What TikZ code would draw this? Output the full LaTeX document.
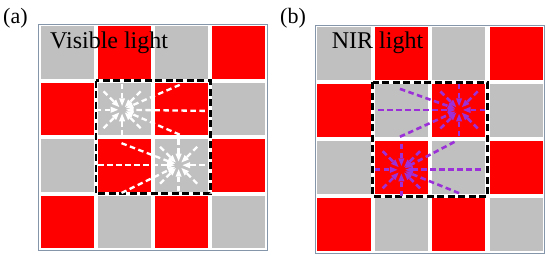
\documentclass[tikz,border=0pt]{standalone}
\usepackage{fontspec}
\setmainfont{Liberation Serif}
\usepackage{tikz}
\usetikzlibrary{arrows.meta,calc}
\definecolor{cellred}   {HTML}{FF0000}
\definecolor{cellgray}  {HTML}{C0C0C0}
\definecolor{nirpurple} {HTML}{9B30D9}
\definecolor{framegray} {HTML}{8595AA}
\tikzset{
  % --- grid
  gridframe/.style = {draw=framegray, line width=0.9pt},
  zonebox/.style   = {draw=black, line width=2.8pt, dash pattern=on 7pt off 3.5pt},
  % --- labels
  tag/.style       = {inner sep=0pt, anchor=base west, font=\fontsize{22}{26}\selectfont},
  lightlbl/.style  = {inner sep=0pt, anchor=base west, font=\fontsize{24}{28}\selectfont},
  % --- rays
  rayline/.style   = {-{Triangle[length=8pt,width=5.5pt]}, line width=2.3pt,
                      dash pattern=on 5.5pt off 3.5pt, shorten >=3.5pt},
  visray/.style    = {rayline, draw=white},
  nirray/.style    = {rayline, draw=nirpurple, line width=2.6pt},
}

\begin{document}
\begin{tikzpicture}[x=1pt,y=-1pt]
  \useasboundingbox (0,0) rectangle (550,259);

  % --- (a) visible light
  \begin{scope}[xshift=41pt,yshift=-26pt,x=57.1pt,y=-56.6pt]
    \foreach \c in {0,...,3}{
      \foreach \r in {0,...,3}{
        \pgfmathtruncatemacro\odd{mod(\c+\r,2)}
        \ifnum\odd=1 \def\cellcol{cellred}\else\def\cellcol{cellgray}\fi
        \fill[\cellcol] (\c,\r) rectangle ++(0.928,0.928);
      }}
    \draw[gridframe] (-0.036,-0.036) rectangle (3.964,3.964);
    \draw[zonebox] (0.964,0.964) rectangle (2.964,2.964);

    \coordinate (vis1) at (1.42,1.48);
    \coordinate (vis2) at (2.41,2.46);
    \coordinate (vis1a) at (2.43,1.04);
    \coordinate (vis1b) at (2.87,1.50);
    \coordinate (vis1c) at (2.43,1.92);
    \coordinate (vis2a) at (1.41,2.07);
    \coordinate (vis2b) at (1.00,2.46);
    \coordinate (vis2c) at (1.41,2.95);
    \foreach \ang in {45,90,...,315}{
      \coordinate (vis1s) at ($(vis1)+(\ang:0.46)$);
      \draw[visray] (vis1s) -- (vis1);
    }
    \foreach \ang in {0,45,90,135,225,270,315}{
      \coordinate (vis2s) at ($(vis2)+(\ang:0.46)$);
      \draw[visray] (vis2s) -- (vis2);
    }
    \foreach \t in {a,b,c}{
      \draw[visray] (vis1\t) -- (vis1);
      \draw[visray] (vis2\t) -- (vis2);
    }
  \end{scope}

  % --- (b) NIR light
  \begin{scope}[xshift=317.3pt,yshift=-27.3pt,x=57.4pt,y=-57pt]
    \foreach \c in {0,...,3}{
      \foreach \r in {0,...,3}{
        \pgfmathtruncatemacro\odd{mod(\c+\r,2)}
        \ifnum\odd=1 \def\cellcol{cellred}\else\def\cellcol{cellgray}\fi
        \fill[\cellcol] (\c,\r) rectangle ++(0.928,0.928);
      }}
    \draw[gridframe] (-0.036,-0.036) rectangle (3.964,3.964);
    \draw[zonebox] (0.964,0.964) rectangle (2.964,2.964);

    \coordinate (nir1) at (2.47,1.45);
    \coordinate (nir2) at (1.465,2.50);
    \coordinate (nir1a) at (1.44,1.08);
    \coordinate (nir1b) at (1.06,1.45);
    \coordinate (nir1c) at (1.44,1.92);
    \coordinate (nir2a) at (2.39,2.01);
    \coordinate (nir2b) at (2.85,2.50);
    \coordinate (nir2c) at (2.47,2.91);
    \foreach \ang in {0,45,90,135,225,270,315}{
      \coordinate (nir1s) at ($(nir1)+(\ang:0.46)$);
      \draw[nirray] (nir1s) -- (nir1);
    }
    \foreach \ang in {45,90,...,315}{
      \coordinate (nir2s) at ($(nir2)+(\ang:0.46)$);
      \draw[nirray] (nir2s) -- (nir2);
    }
    \foreach \t in {a,b,c}{
      \draw[nirray] (nir1\t) -- (nir1);
      \draw[nirray] (nir2\t) -- (nir2);
    }
  \end{scope}

  % --- labels
  \node[tag] (taga) at (3,24) {(a)};
  \node[tag] (tagb) at (280,24) {(b)};
  \node[lightlbl] (vislbl) at (50,48.3) {Visible light};
  \node[lightlbl] (nirlbl) at (331.7,49) {NIR light};
\end{tikzpicture}
\end{document}
